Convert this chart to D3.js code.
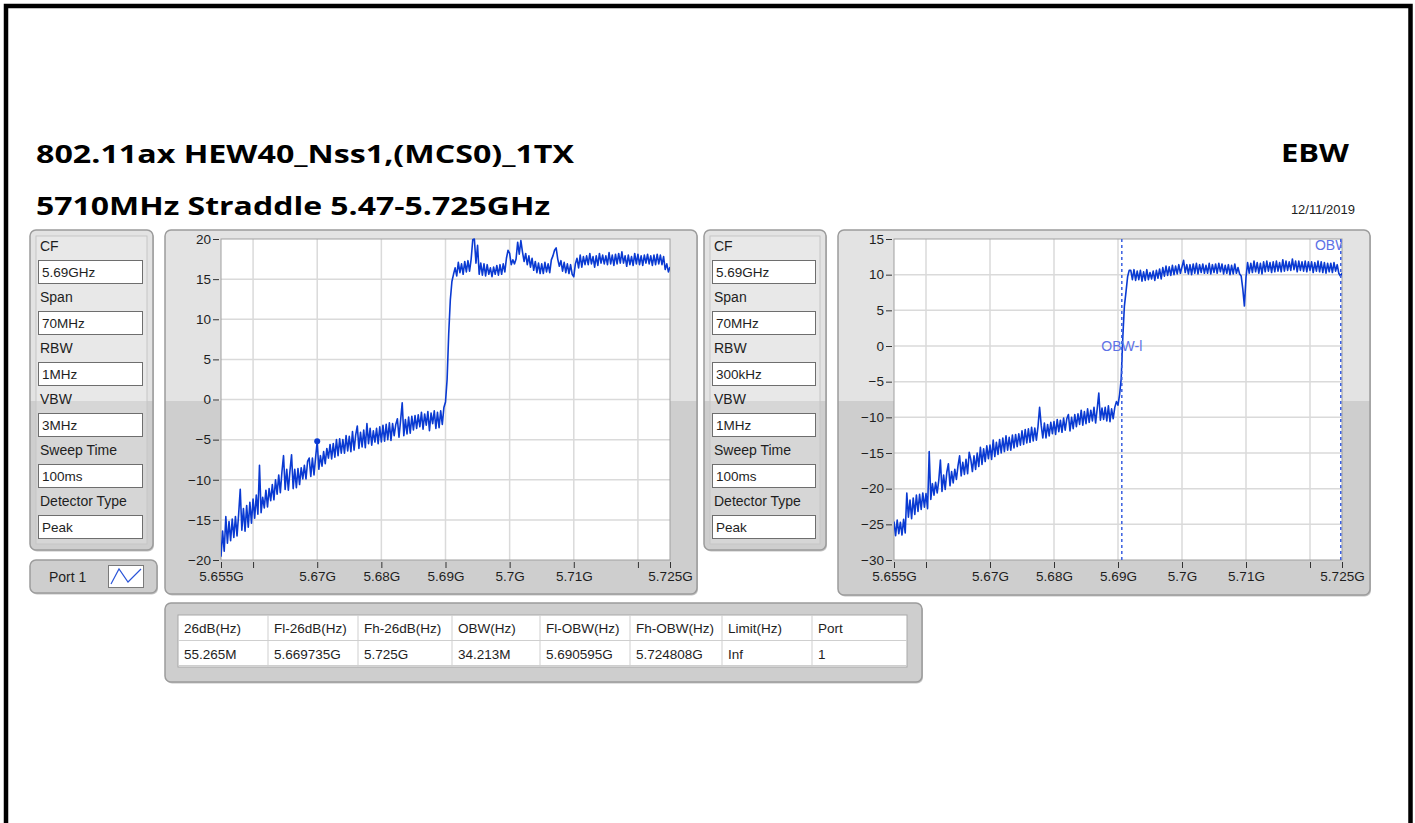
<!DOCTYPE html>
<html><head><meta charset="utf-8">
<script src="https://cdn.jsdelivr.net/npm/d3@7"></script>
<style>
body{margin:0;background:#fff;}
svg{display:block;font-family:"Liberation Sans",Arial,sans-serif;}
</style>
</head><body><svg id="c" width="1415" height="823"></svg>
<script>
// ---------------- DATA ----------------
const titleLine1 = "802.11ax HEW40_Nss1,(MCS0)_1TX";
const titleLine2 = "5710MHz Straddle 5.47-5.725GHz";
const titleRight = "EBW";
const reportDate = "12/11/2019";

const freqStartGHz = 5.655;
const freqStepGHz = 0.00025;   // trace sample spacing (0.25 MHz)
const xDomain = [5.655, 5.725];
const xTickValues = [5.655, 5.66, 5.67, 5.68, 5.69, 5.70, 5.71, 5.72, 5.725];
const xTickLabels = ["5.655G", "", "5.67G", "5.68G", "5.69G", "5.7G", "5.71G", "", "5.725G"];
const leftYTicks = [20, 15, 10, 5, 0, -5, -10, -15, -20];
const rightYTicks = [15, 10, 5, 0, -5, -10, -15, -20, -25, -30];

// Left chart: RBW 1MHz trace (dBm), one value per 0.25 MHz
const leftTrace = [
-19.6,-16.4,-18.9,-14.6, -17.9,-15.2,-17.6,-14.9, -17.2,-14.6,-17.0,-14.3, -11.2,-16.3,-13.6,-16.4,
-13.2,-15.9,-12.8,-15.4, -12.4,-14.8,-11.9,-14.3, -8.2,-14.1,-12.2,-13.5, -11.3,-13.4,-11.1,-12.6,
-10.6,-12.5,-10.0,-11.8, -9.4,-11.6,-9.0,-7.0, -11.2,-8.7,-11.3,-8.9, -6.9,-11.1,-8.7,-11.0,
-8.6,-10.6,-8.5,-9.9, -8.2,-9.9,-7.7,-7.3, -9.6,-7.3,-9.4,-7.2, -5.2,-8.7,-7.0,-8.3,
-6.5,-8.0,-6.1,-7.3, -5.6,-7.4,-5.5,-7.2, -5.0,-7.0,-4.9,-6.7, -5.0,-6.7,-4.5,-6.4,
-4.6,-6.5,-4.0,-6.3, -4.4,-3.3,-6.1,-4.1, -5.9,-3.8,-6.0,-3.0, -5.5,-3.6,-5.7,-3.9,
-5.3,-3.6,-5.5,-3.4, -5.3,-3.2,-5.2,-3.1, -5.0,-2.9,-5.1,-3.0, -4.5,-3.1,-2.4,-4.7,
-2.6,-0.4,-4.5,-2.5, -4.3,-2.2,-4.2,-2.1, -3.8,-2.0,-3.6,-1.9, -3.4,-1.6,-3.7,-1.8,
-3.2,-1.5,-3.9,-1.7, -3.0,-1.4,-3.6,-1.6, -3.5,-1.4,-3.1,-1.0, -0.3,2.5,8.2,12.4,
14.7,15.6,16.4,15.4, 17.1,15.8,16.9,15.6, 17.2,15.9,17.3,16.0, 17.5,19.9,20.0,17.0,
19.2,15.6,17.0,15.5, 16.9,15.4,16.8,15.6, 16.4,15.3,16.5,15.6, 16.7,15.5,16.8,15.6,
16.9,15.9,17.6,18.6, 18.2,16.8,17.4,16.9, 17.5,19.6,18.1,19.8, 18.4,17.2,18.2,16.8,
17.9,16.5,17.6,16.1, 17.2,15.8,17.0,15.7, 16.9,15.7,17.1,15.9, 16.9,15.8,17.4,17.9,
18.6,18.9,17.5,16.6, 17.3,16.0,17.1,15.8, 16.9,15.7,16.8,15.6, 15.3,16.9,17.6,16.4,
18.0,16.5,17.8,16.8, 17.9,16.8,18.2,16.9, 17.8,16.5,17.9,16.7, 18.2,17.0,18.0,16.9,
17.9,16.8,18.3,16.9, 18.0,16.7,18.1,16.9, 18.2,17.0,18.4,17.0, 17.9,16.6,18.0,16.8,
17.8,16.7,18.2,16.9, 18.1,16.8,17.9,16.7, 18.0,17.0,18.1,16.9, 17.9,16.7,18.0,16.8,
18.1,16.9,18.0,16.8, 17.8,16.2,16.9,15.9, 16.5
];

// Right chart: RBW 300kHz trace (dBm), one value per 0.25 MHz
const rightTrace = [
-24.6,-26.6,-24.4,-26.3, -24.7,-26.5,-24.3,-26.2, -20.6,-24.0,-21.6,-24.2, -21.3,-23.6,-20.9,-23.2,
-20.8,-22.9,-20.6,-22.6, -20.7,-22.8,-14.8,-21.5, -19.3,-20.9,-19.1,-20.6, -18.8,-16.0,-20.4,-18.1,
-20.1,-17.7,-16.5,-19.6, -17.6,-19.2,-17.3,-18.7, -16.8,-15.4,-18.2,-16.3, -18.0,-15.9,-17.9,-14.9,
-15.9,-17.6,-15.4,-17.3, -15.0,-16.9,-14.2,-16.6, -14.4,-16.2,-14.0,-15.8, -13.9,-15.9,-13.2,-15.5,
-13.5,-15.2,-13.1,-15.0, -12.9,-14.8,-12.6,-14.6, -12.8,-14.6,-12.5,-14.3, -12.4,-14.1,-12.3,-13.9,
-11.9,-13.8,-11.7,-13.6, -11.6,-13.5,-11.4,-13.3, -11.5,-13.2,-11.3,-8.6, -11.1,-12.9,-10.8,-12.9,
-11.0,-12.6,-10.7,-12.3, -10.6,-12.4,-10.3,-12.0, -10.4,-12.1,-10.1,-11.8, -10.2,-9.6,-11.9,-10.0,
-11.6,-9.6,-11.3,-9.5, -11.0,-9.0,-11.1,-9.2, -10.9,-8.8,-10.7,-9.0, -10.5,-8.6,-10.8,-8.8,
-6.6,-10.4,-8.7,-10.3, -8.6,-10.5,-8.4,-10.6, -8.8,-10.2,-8.6,-7.8, -8.3,-6.8,-4.6,1.2,
5.6,7.6,9.7,10.6, 10.6,9.3,10.7,9.2, 10.5,9.3,10.6,9.1, 10.4,9.2,10.7,9.3,
10.3,9.4,10.5,9.2, 10.6,9.5,10.8,9.4, 11.0,9.8,11.2,9.9, 11.1,9.9,11.3,10.0,
11.2,10.1,11.4,10.2, 11.1,12.0,10.3,11.4, 10.1,11.4,10.0,11.5, 10.2,11.6,10.1,11.4,
10.3,11.5,10.2,11.3, 10.2,11.6,10.1,11.4, 10.3,11.5,10.2,11.6, 10.4,11.5,10.1,11.3,
10.2,11.4,10.0,11.3, 10.1,11.5,10.2,11.0, 10.1,9.8,8.0,5.6, 9.6,11.7,10.2,11.6,
10.3,11.9,10.4,11.7, 10.2,11.6,10.1,11.8, 10.4,11.9,10.5,11.7, 10.3,11.8,10.4,11.9,
10.5,11.7,10.4,12.1, 10.5,11.9,10.6,11.8, 10.6,12.2,10.7,11.9, 10.4,11.9,10.6,11.8,
10.5,11.9,10.4,11.8, 10.6,11.8,10.3,11.7, 10.5,11.9,10.4,11.8, 10.3,11.7,10.2,11.6,
10.4,11.6,10.3,11.7, 10.5,11.4,10.2,9.8, 10.2
];

const leftMarker = { f: 5.67, v: -5.2 };
const obwMarkers = [
  { f: 5.690595, label: "OBW-l", v: 0 },
  { f: 5.724808, label: "OBW-h", v: 14.2 }
];

const settingsLabels = ["CF", "Span", "RBW", "VBW", "Sweep Time", "Detector Type"];
const settingsLeft = ["5.69GHz", "70MHz", "1MHz", "3MHz", "100ms", "Peak"];
const settingsRight = ["5.69GHz", "70MHz", "300kHz", "1MHz", "100ms", "Peak"];
const portLabel = "Port 1";

const tableHeaders = ["26dB(Hz)", "Fl-26dB(Hz)", "Fh-26dB(Hz)", "OBW(Hz)", "Fl-OBW(Hz)", "Fh-OBW(Hz)", "Limit(Hz)", "Port"];
const tableValues = ["55.265M", "5.669735G", "5.725G", "34.213M", "5.690595G", "5.724808G", "Inf", "1"];

// ---------------- DRAWING ----------------
const svg = d3.select("#c");
const defs = svg.append("defs");
const traceColor = "#0a3ad2";
const textColor = "#1e1e1e";

function addSplitGradient(id, top, bottom, split) {
  const g = defs.append("linearGradient").attr("id", id)
    .attr("gradientUnits", "userSpaceOnUse").attr("x1", 0).attr("y1", 0).attr("x2", 0).attr("y2", 823);
  const s = split / 823;
  g.append("stop").attr("offset", 0).attr("stop-color", top);
  g.append("stop").attr("offset", s).attr("stop-color", top);
  g.append("stop").attr("offset", s + 0.0005).attr("stop-color", bottom);
  g.append("stop").attr("offset", 1).attr("stop-color", bottom);
}
addSplitGradient("panelFill", "#e3e3e3", "#cecece", 401);
addSplitGradient("innerFill", "#e8e8e8", "#d6d6d6", 401);

// page border
svg.append("rect").attr("x", 6).attr("y", 6).attr("width", 1404.5).attr("height", 840)
  .attr("fill", "#fff").attr("stroke", "#000").attr("stroke-width", 4.5);

// titles
svg.append("text").attr("x", 36).attr("y", 163).text(titleLine1)
  .attr("font-family", "'Open Sans','Liberation Sans',sans-serif").attr("font-weight", "bold").attr("font-size", 25)
  .attr("textLength", 538).attr("lengthAdjust", "spacingAndGlyphs").attr("fill", "#000");
svg.append("text").attr("x", 36).attr("y", 215).text(titleLine2)
  .attr("font-family", "'Open Sans','Liberation Sans',sans-serif").attr("font-weight", "bold").attr("font-size", 25)
  .attr("textLength", 514).attr("lengthAdjust", "spacingAndGlyphs").attr("fill", "#000");
svg.append("text").attr("x", 1281).attr("y", 162).text(titleRight)
  .attr("font-family", "'Open Sans','Liberation Sans',sans-serif").attr("font-weight", "bold").attr("font-size", 25)
  .attr("textLength", 68).attr("lengthAdjust", "spacingAndGlyphs").attr("fill", "#000");
svg.append("text").attr("x", 1355).attr("y", 214).attr("text-anchor", "end").text(reportDate)
  .attr("font-size", 13).attr("fill", textColor);

function panel(x, y, w, h) {
  svg.append("rect").attr("x", x + 1).attr("y", y + 1.5).attr("width", w).attr("height", h).attr("rx", 6)
    .attr("fill", "#c4c4c4");
  svg.append("rect").attr("x", x).attr("y", y).attr("width", w).attr("height", h).attr("rx", 6)
    .attr("fill", "url(#panelFill)").attr("stroke", "#9c9c9c").attr("stroke-width", 1.5);
}

// settings panels
function settingsPanel(x, y, w, h, values) {
  panel(x, y, w, h);
  svg.append("rect").attr("x", x + 6).attr("y", y + 6).attr("width", w - 12).attr("height", h - 12)
    .attr("fill", "url(#innerFill)").attr("stroke", "#c6c6c6").attr("stroke-width", 1);
  settingsLabels.forEach((lab, i) => {
    const top = y + 30 + i * 51;
    svg.append("text").attr("x", x + 10).attr("y", top - 9).text(lab)
      .attr("font-size", 14).attr("fill", textColor);
    svg.append("rect").attr("x", x + 8.5).attr("y", top + 0.5).attr("width", w - 19).attr("height", 23)
      .attr("fill", "#fff").attr("stroke", "#6e6e6e").attr("stroke-width", 1);
    svg.append("text").attr("x", x + 12).attr("y", top + 17).text(values[i])
      .attr("font-size", 13.5).attr("fill", textColor);
  });
}
settingsPanel(30, 230, 123, 320, settingsLeft);
settingsPanel(704, 230, 122, 320, settingsRight);

// port box
panel(30, 560, 127, 33);
svg.append("text").attr("x", 49).attr("y", 582).text(portLabel).attr("font-size", 14).attr("fill", textColor);
svg.append("rect").attr("x", 108.5).attr("y", 565.5).attr("width", 35).attr("height", 22)
  .attr("fill", "#fff").attr("stroke", "#7a7a7a");
svg.append("polyline").attr("points", "111,584 119,569 128,582 141,569")
  .attr("fill", "none").attr("stroke", "#2b55d8").attr("stroke-width", 1.2);

// chart drawing
function chart(id, pnl, plot, yDomain, yTicks, trace, extras) {
  panel(pnl.x, pnl.y, pnl.w, pnl.h);
  const x = d3.scaleLinear().domain(xDomain).range([plot.x, plot.x + plot.w]);
  const y = d3.scaleLinear().domain(yDomain).range([plot.y + plot.h, plot.y]);
  svg.append("rect").attr("x", plot.x).attr("y", plot.y).attr("width", plot.w).attr("height", plot.h)
    .attr("fill", "#fff");
  const grid = svg.append("g");
  grid.selectAll("line.v").data(xTickValues.slice(1, -1)).join("line")
    .attr("x1", d => x(d)).attr("x2", d => x(d)).attr("y1", plot.y).attr("y2", plot.y + plot.h)
    .attr("stroke", "#dadada").attr("stroke-width", 1.5);
  grid.selectAll("line.h").data(yTicks.slice(1, -1)).join("line")
    .attr("y1", d => y(d)).attr("y2", d => y(d)).attr("x1", plot.x).attr("x2", plot.x + plot.w)
    .attr("stroke", "#dadada").attr("stroke-width", 1.5);
  svg.append("rect").attr("x", plot.x).attr("y", plot.y).attr("width", plot.w).attr("height", plot.h)
    .attr("fill", "none").attr("stroke", "#a0a0a0").attr("stroke-width", 1);

  // axes
  const ya = svg.append("g").attr("transform", `translate(${plot.x - 2},0)`)
    .call(d3.axisLeft(y).tickValues(yTicks).tickSize(6).tickPadding(2).tickFormat(d3.format("d")));
  ya.select(".domain").remove();
  ya.selectAll("text").attr("font-size", 13.5).attr("fill", textColor).attr("font-family", "'Liberation Sans',Arial,sans-serif");
  ya.selectAll("line").attr("stroke", "#333");
  const xa = svg.append("g").attr("transform", `translate(0,${plot.y + plot.h + 2})`)
    .call(d3.axisBottom(x).tickValues(xTickValues).tickSize(6).tickPadding(3)
      .tickFormat((d, i) => xTickLabels[i]));
  xa.select(".domain").remove();
  xa.selectAll("text").attr("font-size", 13.5).attr("fill", textColor).attr("font-family", "'Liberation Sans',Arial,sans-serif");
  xa.selectAll("line").attr("stroke", "#333");

  // clip
  defs.append("clipPath").attr("id", id).append("rect")
    .attr("x", plot.x).attr("y", plot.y - 1).attr("width", plot.w).attr("height", plot.h + 2);
  const g = svg.append("g").attr("clip-path", `url(#${id})`);
  const line = d3.line().x((d, i) => x(freqStartGHz + i * freqStepGHz)).y(d => y(d));
  g.append("path").datum(trace).attr("d", line).attr("fill", "none")
    .attr("stroke", traceColor).attr("stroke-width", 1.6).attr("stroke-linejoin", "round");
  if (extras) extras(g, x, y, plot);
}

chart("clipL", { x: 165, y: 230, w: 532, h: 364 }, { x: 221, y: 239, w: 449, h: 321 },
  [-20, 20], leftYTicks, leftTrace, (g, x, y) => {
    g.append("circle").attr("cx", x(leftMarker.f)).attr("cy", y(leftMarker.v)).attr("r", 3)
      .attr("fill", traceColor);
  });

chart("clipR", { x: 838, y: 230, w: 532, h: 365 }, { x: 894, y: 239, w: 448, h: 321 },
  [-30, 15], rightYTicks, rightTrace, (g, x, y, plot) => {
    obwMarkers.forEach(m => {
      g.append("line").attr("x1", x(m.f)).attr("x2", x(m.f)).attr("y1", plot.y).attr("y2", plot.y + plot.h)
        .attr("stroke", "#3a5fe0").attr("stroke-width", 1.5).attr("stroke-dasharray", "3,3");
      g.append("text").attr("x", x(m.f)).attr("y", y(m.v)).attr("dy", "0.35em")
        .attr("text-anchor", "middle").attr("dx", m.v > 10 ? -3 : 0)
        .attr("font-size", 14).attr("fill", "#5d72e6").text(m.label);
    });
  });

// results table
panel(165, 603, 757, 79);
const tbl = { x: 178, y: 615, w: 729, rowH: 25.5 };
const colEdges = [178, 268, 358, 452, 540, 630, 722, 812, 907];
svg.append("rect").attr("x", tbl.x).attr("y", tbl.y).attr("width", tbl.w).attr("height", 52)
  .attr("fill", "#fff").attr("stroke", "#a8a8a8");
colEdges.slice(1, -1).forEach(cx => {
  svg.append("line").attr("x1", cx).attr("x2", cx).attr("y1", tbl.y).attr("y2", tbl.y + 52)
    .attr("stroke", "#cfcfcf");
});
svg.append("line").attr("x1", tbl.x).attr("x2", tbl.x + tbl.w).attr("y1", tbl.y + 25.5).attr("y2", tbl.y + 25.5).attr("stroke", "#cfcfcf");
svg.append("line").attr("x1", tbl.x).attr("x2", tbl.x + tbl.w).attr("y1", tbl.y + 50.5).attr("y2", tbl.y + 50.5).attr("stroke", "#cfcfcf");
tableHeaders.forEach((h, i) => {
  svg.append("text").attr("x", colEdges[i] + 6).attr("y", tbl.y + 18).text(h)
    .attr("font-size", 13.5).attr("fill", textColor);
  svg.append("text").attr("x", colEdges[i] + 6).attr("y", tbl.y + 43.5).text(tableValues[i])
    .attr("font-size", 13.5).attr("fill", textColor);
});
</script></body></html>
